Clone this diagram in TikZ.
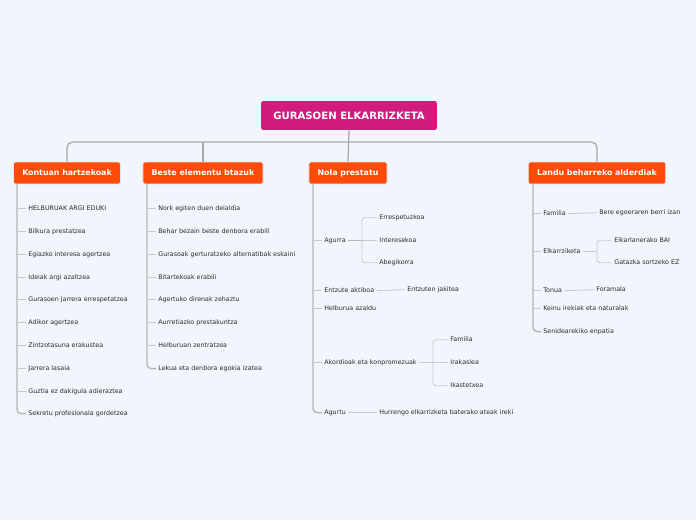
\documentclass[tikz,border=0pt]{standalone}
\usepackage{fontspec}
\setmainfont{DejaVu Sans}
\usepackage{xcolor}
\definecolor{fondo}{HTML}{F3F5FD}
\definecolor{magenta}{HTML}{D11C7D}
\definecolor{laranja}{HTML}{FF4A0A}
\definecolor{lerro}{HTML}{A9A9A9}
\definecolor{adar}{HTML}{C9CACD}
\definecolor{testu}{HTML}{2A2A2A}

\begin{document}
\begin{tikzpicture}[x=0.025cm,y=-0.025cm,
    every node/.style={align=left},
    root/.style={fill=magenta,text=white,rounded corners=1.5pt,font=\fontsize{7.2}{8}\selectfont\bfseries,minimum height=20.6pt,inner xsep=8.6pt},
    head/.style={fill=laranja,draw=white!80!gray,line width=0.5pt,text=white,rounded corners=1.5pt,font=\fontsize{5.6}{6.5}\selectfont\bfseries,minimum height=15.6pt,inner xsep=6.2pt},
    item/.style={anchor=west,inner sep=1.5pt,text height=3.4pt,text depth=0.9pt,yshift=-1.2pt,text=testu,font=\fontsize{4.5}{5.5}\selectfont},
    trunk/.style={draw=lerro,line width=0.9pt,rounded corners=4pt},
    spine/.style={draw=lerro!85,line width=1pt,rounded corners=3pt},
    twig/.style={draw=adar,line width=0.6pt,rounded corners=2pt}
  ]
    \fill[fondo] (0,0) rectangle (696,520);
    \useasboundingbox (0,0) rectangle (696,520);

    \node[root] (root) at (349,115.5) {GURASOEN ELKARRIZKETA};
    \node[head] (kont) at (67,173) {Kontuan hartzekoak};
    \node[head] (beste) at (203,173) {Beste elementu btazuk};
    \node[head] (nola) at (348,173) {Nola prestatu};
    \node[head] (landu) at (597,173) {Landu beharreko alderdiak};

    % root to the four headings
    \coordinate (bar) at (349,142);
    \draw[trunk] (kont.north) |- (bar) -| (landu.north);
    \draw[trunk] (root.south) -- (nola.north);
    \draw[trunk] (beste.north) -- (beste.north |- bar);

    % Kontuan hartzekoak
    \node[item] (k1) at (26,207) {HELBURUAK ARGI EDUKI};
    \node[item] (k2) at (26,230) {Bilkura prestatzea};
    \node[item] (k3) at (26,253) {Egiazko interesa agertzea};
    \node[item] (k4) at (26,276) {Ideiak argi azaltzea};
    \node[item] (k5) at (26,298) {Gurasoen jarrera errespetatzea};
    \node[item] (k6) at (26,321) {Adikor agertzea};
    \node[item] (k7) at (26,344) {Zintzotasuna erakustea};
    \node[item] (k8) at (26,367) {Jarrera lasaia};
    \node[item] (k9) at (26,390) {Guztia ez dakigula adieraztea};
    \node[item] (k10) at (26,412) {Sekretu profesionala gordetzea};
    \coordinate (kspine) at (17,184);
    \draw[spine] (kspine) |- (k10.west);
    \draw[twig] (k1.west -| kspine) -- (k1.west);
    \draw[twig] (k2.west -| kspine) -- (k2.west);
    \draw[twig] (k3.west -| kspine) -- (k3.west);
    \draw[twig] (k4.west -| kspine) -- (k4.west);
    \draw[twig] (k5.west -| kspine) -- (k5.west);
    \draw[twig] (k6.west -| kspine) -- (k6.west);
    \draw[twig] (k7.west -| kspine) -- (k7.west);
    \draw[twig] (k8.west -| kspine) -- (k8.west);
    \draw[twig] (k9.west -| kspine) -- (k9.west);

    % Beste elementu btazuk
    \node[item] (b1) at (156,207) {Nork egiten duen deialdia};
    \node[item] (b2) at (156,230) {Behar bezain beste denbora erabili};
    \node[item] (b3) at (156,253) {Gurasoak gerturatzeko alternatibak eskaini};
    \node[item] (b4) at (156,276) {Bitartekoak erabili};
    \node[item] (b5) at (156,298) {Agertuko direnak zehaztu};
    \node[item] (b6) at (156,321) {Aurretiazko prestakuntza};
    \node[item] (b7) at (156,344) {Helburuan zentratzea};
    \node[item] (b8) at (156,367) {Lekua eta denbora egokia izatea};
    \coordinate (bspine) at (147,184);
    \draw[spine] (bspine) |- (b8.west);
    \draw[twig] (b1.west -| bspine) -- (b1.west);
    \draw[twig] (b2.west -| bspine) -- (b2.west);
    \draw[twig] (b3.west -| bspine) -- (b3.west);
    \draw[twig] (b4.west -| bspine) -- (b4.west);
    \draw[twig] (b5.west -| bspine) -- (b5.west);
    \draw[twig] (b6.west -| bspine) -- (b6.west);
    \draw[twig] (b7.west -| bspine) -- (b7.west);

    % Nola prestatu
    \node[item] (n1) at (322,239) {Agurra};
    \node[item] (n2) at (322,289) {Entzute aktiboa};
    \node[item] (n3) at (322,307) {Helburua azaldu};
    \node[item] (n4) at (322,361) {Akordioak eta konpromezuak};
    \node[item] (n5) at (322,411) {Agurtu};
    \coordinate (nspine) at (313,184);
    \draw[spine] (nspine) |- (n5.west);
    \draw[twig] (n1.west -| nspine) -- (n1.west);
    \draw[twig] (n2.west -| nspine) -- (n2.west);
    \draw[twig] (n3.west -| nspine) -- (n3.west);
    \draw[twig] (n4.west -| nspine) -- (n4.west);

    \node[item] (n11) at (377,216) {Errespetuzkoa};
    \node[item] (n12) at (377,239) {Interesekoa};
    \node[item] (n13) at (377,261) {Abegikorra};
    \coordinate (n1b) at (n1.east -| 362,0);
    \draw[spine] (n1.east) -- (n1b);
    \draw[twig] (n11.west) -| (n1b) |- (n13.west);
    \draw[twig] (n1b) -- (n12.west);

    \node[item] (n21) at (405,288) {Entzuten jakitea};
    \draw[twig] (n2.east) -- (n21.west);

    \node[item] (n41) at (448,338) {Familia};
    \node[item] (n42) at (448,361) {Irakaslea};
    \node[item] (n43) at (448,384) {Ikastetxea};
    \coordinate (n4b) at (n4.east -| 433,0);
    \draw[twig] (n4.east) -- (n4b);
    \draw[twig] (n41.west) -| (n4b) |- (n43.west);
    \draw[twig] (n4b) -- (n42.west);

    \node[item] (n51) at (377,411) {Hurrengo elkarrizketa baterako ateak ireki};
    \draw[twig] (n5.east) -- (n51.west);

    % Landu beharreko alderdiak
    \node[item] (l1) at (541,212) {Familia};
    \node[item] (l2) at (541,250) {Elkarrziketa};
    \node[item] (l3) at (541,289) {Tonua};
    \node[item] (l4) at (541,307) {Keinu irekiak eta naturalak};
    \node[item] (l5) at (541,330) {Senidearekiko enpatia};
    \coordinate (lspine) at (533,184);
    \draw[spine] (lspine) |- (l5.west);
    \draw[twig] (l1.west -| lspine) -- (l1.west);
    \draw[twig] (l2.west -| lspine) -- (l2.west);
    \draw[twig] (l3.west -| lspine) -- (l3.west);
    \draw[twig] (l4.west -| lspine) -- (l4.west);

    \node[item] (l11) at (597,211) {Bere egoeraren berri izan};
    \draw[twig] (l1.east) -- (l11.west);

    \node[item] (l21) at (612,239) {Elkarlanerako BAI};
    \node[item] (l22) at (612,261) {Gatazka sortzeko EZ};
    \coordinate (l2b) at (l2.east -| 597,0);
    \draw[twig] (l2.east) -- (l2b);
    \draw[twig] (l21.west) -| (l2b) |- (l22.west);

    \node[item] (l31) at (594,288) {Foramala};
    \draw[twig] (l3.east) -- (l31.west);
  \end{tikzpicture}
\end{document}
